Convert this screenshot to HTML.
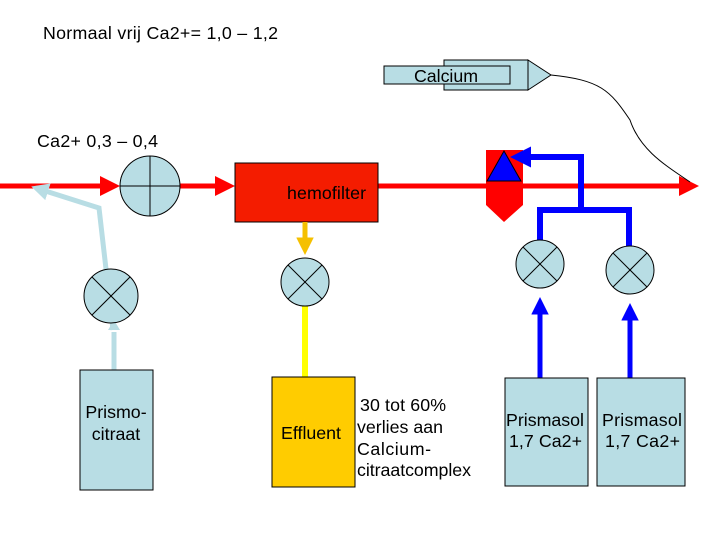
<!DOCTYPE html>
<html><head><style>
body{margin:0;background:#fff;}
svg text{font-family:"Liberation Sans",sans-serif;fill:#000;font-size:17.8px;}
</style></head><body>
<svg width="720" height="540" viewBox="0 0 720 540" xmlns="http://www.w3.org/2000/svg">
<defs>
<marker id="ar" markerWidth="4" markerHeight="4" refX="3" refY="2" orient="auto" markerUnits="strokeWidth"><path d="M0,0L4,2L0,4z" fill="#f00"/></marker>
<marker id="ab" markerWidth="3.5" markerHeight="3.5" refX="2.5" refY="1.75" orient="auto" markerUnits="strokeWidth"><path d="M0,0L3.5,1.75L0,3.5z" fill="#00f"/></marker>
<marker id="ao" markerWidth="3.5" markerHeight="3.5" refX="2.5" refY="1.75" orient="auto" markerUnits="strokeWidth"><path d="M0,0L3.5,1.75L0,3.5z" fill="#f5c000"/></marker>
<marker id="al" markerWidth="3.5" markerHeight="3.5" refX="2.5" refY="1.75" orient="auto" markerUnits="strokeWidth"><path d="M0,0L3.5,1.75L0,3.5z" fill="#b8dde4"/></marker>
</defs>
<text x="43" y="39" textLength="235" lengthAdjust="spacing">Normaal  vrij Ca2+= 1,0 – 1,2</text>
<text x="37" y="147" textLength="121" lengthAdjust="spacing">Ca2+  0,3 – 0,4</text>
<line x1="0" y1="186" x2="115" y2="186" stroke="#f00" stroke-width="5" marker-end="url(#ar)"/>
<line x1="175" y1="186" x2="230" y2="186" stroke="#f00" stroke-width="5" marker-end="url(#ar)"/>
<line x1="378" y1="186" x2="694" y2="186" stroke="#f00" stroke-width="5" marker-end="url(#ar)"/>
<rect x="235" y="163" width="143" height="59" fill="#f41c00" stroke="#000" stroke-width="1"/>
<text x="287" y="199" textLength="79">hemofilter</text>
<path d="M486,150H523V205L504,222L486,205Z" fill="#f00"/>
<path d="M487,181L504,151L521,181Z" fill="#00f" stroke="#000" stroke-width="1"/>
<rect x="444" y="60" width="84" height="30" fill="#b8dde4" stroke="#000"/>
<path d="M528,60L551,75L528,90Z" fill="#b8dde4" stroke="#000"/>
<rect x="384" y="66" width="126" height="18" fill="#b8dde4" stroke="#000"/>
<text x="414" y="82" textLength="64">Calcium</text>
<path d="M551,75C600,80 610,90 630,120C640,150 665,165 690,182" fill="none" stroke="#000" stroke-width="1"/>
<circle cx="150" cy="186" r="30" fill="#b8dde4" stroke="#000"/>
<line x1="150" y1="156" x2="150" y2="216" stroke="#000"/><line x1="120" y1="186" x2="180" y2="186" stroke="#000"/>
<polyline points="113,330 99,208 36,188" fill="none" stroke="#b8dde4" stroke-width="5" marker-end="url(#al)"/>
<line x1="114" y1="372" x2="114" y2="332" stroke="#b8dde4" stroke-width="5"/>
<polygon points="108,330 114,320 120,330" fill="#b8dde4"/>
<g stroke="#000"><circle cx="111" cy="296" r="27" fill="#b8dde4"/><line x1="92" y1="277" x2="130" y2="315"/><line x1="130" y1="277" x2="92" y2="315"/></g>
<rect x="80" y="370" width="73" height="120" fill="#b8dde4" stroke="#000"/>
<text x="116" y="418" text-anchor="middle">Prismo-</text>
<text x="116" y="440" text-anchor="middle">citraat</text>
<line x1="305" y1="222" x2="305" y2="250" stroke="#f5c000" stroke-width="5" marker-end="url(#ao)"/>
<line x1="305" y1="305" x2="305" y2="377" stroke="#ffff00" stroke-width="6"/>
<g stroke="#000"><circle cx="305" cy="282" r="24" fill="#b8dde4"/><line x1="288" y1="265" x2="322" y2="299"/><line x1="322" y1="265" x2="288" y2="299"/></g>
<rect x="272" y="377" width="83" height="110" fill="#ffcc00" stroke="#000"/>
<text x="281" y="439" textLength="60">Effluent</text>
<text x="360" y="411" textLength="86">30 tot 60%</text>
<text x="357" y="433" textLength="86">verlies aan</text>
<text x="357" y="455" textLength="74">Calcium-</text>
<text x="357" y="476" textLength="114">citraatcomplex</text>
<polyline points="540,242 540,210 629,210 629,248" fill="none" stroke="#00f" stroke-width="6"/>
<polyline points="581,210 581,157 516,157" fill="none" stroke="#00f" stroke-width="6" marker-end="url(#ab)"/>
<line x1="540" y1="378" x2="540" y2="302" stroke="#00f" stroke-width="5" marker-end="url(#ab)"/>
<line x1="630" y1="378" x2="630" y2="308" stroke="#00f" stroke-width="5" marker-end="url(#ab)"/>
<g stroke="#000"><circle cx="540" cy="264" r="24" fill="#b8dde4"/><line x1="523" y1="247" x2="557" y2="281"/><line x1="557" y1="247" x2="523" y2="281"/>
<circle cx="630" cy="270" r="24" fill="#b8dde4"/><line x1="613" y1="253" x2="647" y2="287"/><line x1="647" y1="253" x2="613" y2="287"/></g>
<rect x="505" y="378" width="83" height="108" fill="#b8dde4" stroke="#000"/>
<rect x="597" y="378" width="88" height="108" fill="#b8dde4" stroke="#000"/>
<text x="506" y="426" textLength="78">Prismasol</text>
<text x="509" y="447" textLength="73">1,7 Ca2+</text>
<text x="602" y="426" textLength="80">Prismasol</text>
<text x="605" y="447" textLength="75">1,7 Ca2+</text>
</svg>
</body></html>
